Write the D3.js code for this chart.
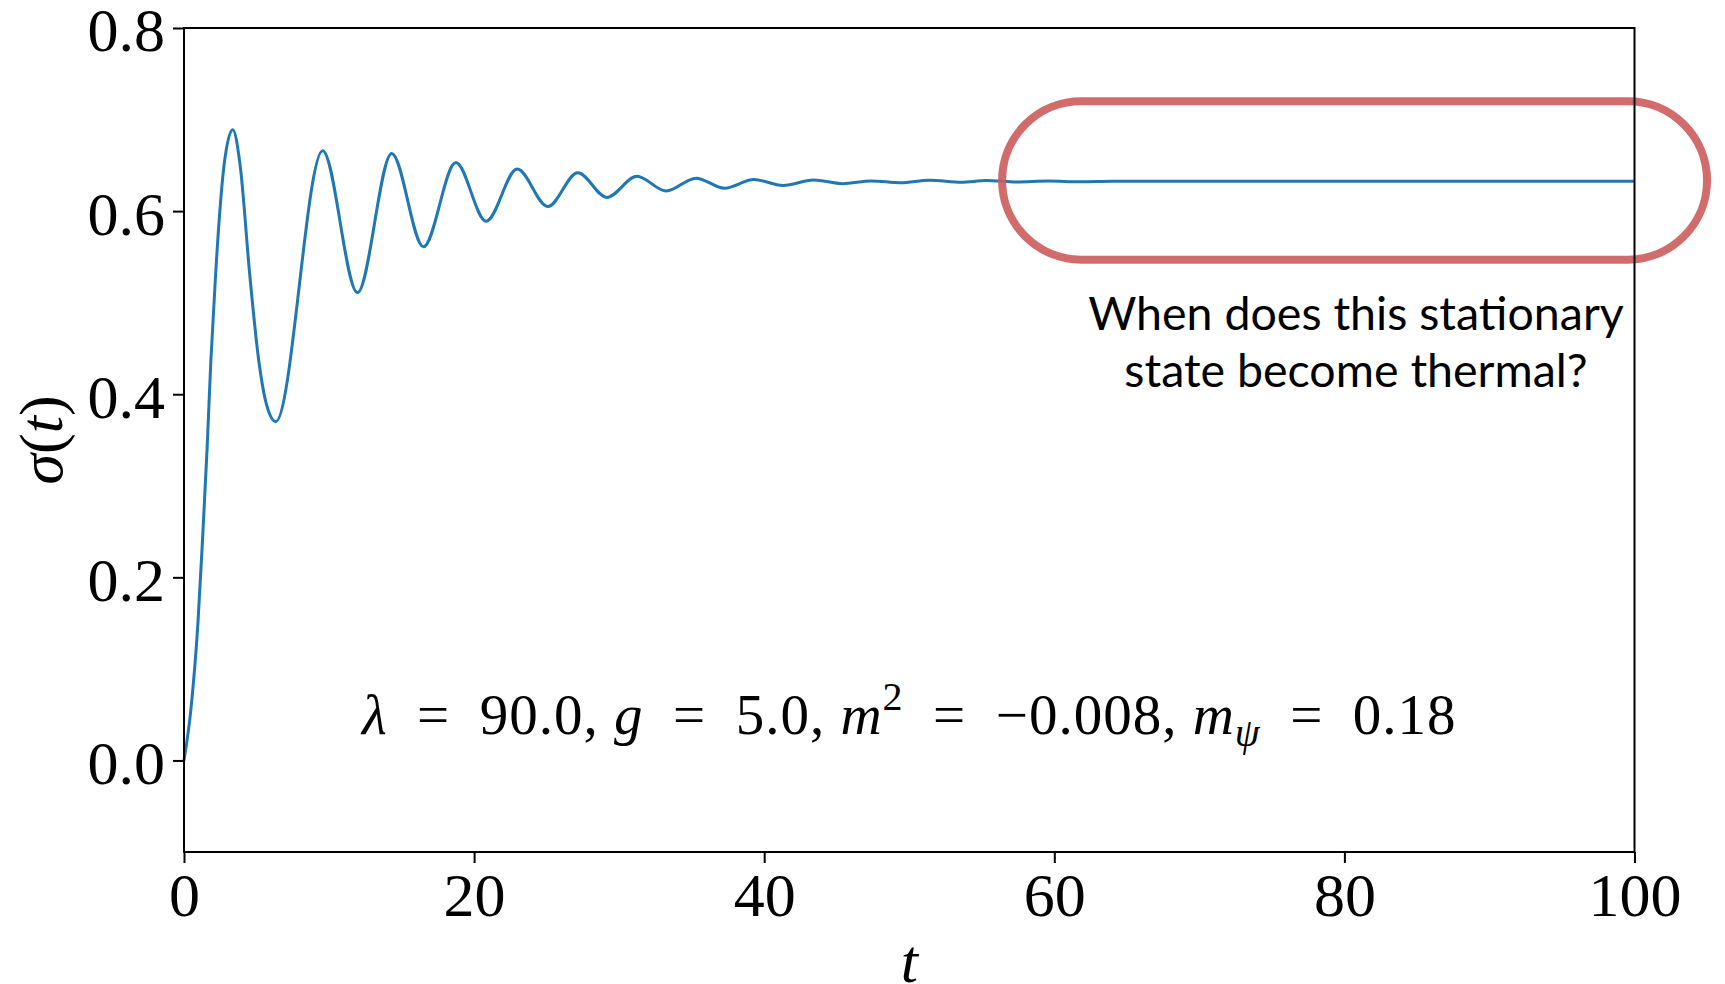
<!DOCTYPE html>
<html>
<head>
<meta charset="utf-8">
<script src="https://cdn.jsdelivr.net/npm/d3@7"></script>
<style>
  html, body { margin: 0; padding: 0; background: #fff; }
  svg { display: block; }
</style>
</head>
<body>
<svg id="chart"></svg>
<script>
// sigma(t): start, points on the first rise/fall, then the turning points
const tValues = [0, 0.47, 0.96, 1.29, 1.59, 1.85, 2.18, 2.48, 2.76, 3.36,
    3.87, 4.53, 5.16, 5.70, 6.33, 9.56, 11.96, 14.32, 16.51, 18.74,
    20.83, 22.97, 25.08, 27.15, 29.15, 31.22, 33.24, 35.3, 37.26, 39.3,
    41.3, 43.4, 45.4, 47.4, 49.4, 51.4, 53.6, 55.3, 57.4, 59.6,
    61.8, 64.0, 100]
const sigmaValues = [0, 0.055, 0.150, 0.245, 0.340, 0.436, 0.531, 0.602, 0.650, 0.689,
    0.650, 0.531, 0.436, 0.388, 0.370, 0.666, 0.511, 0.663, 0.561, 0.653,
    0.589, 0.646, 0.605, 0.642, 0.615, 0.638, 0.622, 0.636, 0.625, 0.6345,
    0.628, 0.634, 0.630, 0.633, 0.631, 0.6338, 0.6315, 0.6333, 0.6318, 0.6328,
    0.6320, 0.6325, 0.6325]

const xTicks = [0, 20, 40, 60, 80, 100]
const yTicks = [0.0, 0.2, 0.4, 0.6, 0.8]
const yTickLabels = ["0.0", "0.2", "0.4", "0.6", "0.8"]

// the highlighted stationary region (data units)
const boxT = [56.4, 105.0]
const boxSigma = [0.547, 0.720]
const noteLines = ["When does this stationary", "state become thermal?"]

// parameter line: [text, style]  (en spaces round "=", like TeX relation spacing)
const paramParts = [
    ["λ", "i"], ["\u2002=\u200290.0, ", ""], ["g", "i"], ["\u2002=\u20025.0, ", ""],
    ["m", "i"], ["2", "sup"], ["\u2002=\u2002−0.008, ", ""],
    ["m", "i"], ["ψ", "sub"], ["\u2002=\u20020.18", ""]
]

let svgWidth = 1725
let svgHeight = 984
let margin = { left: 184, top: 28, right: 90.5, bottom: 132 }
let chartWidth = svgWidth - margin.left - margin.right
let chartHeight = svgHeight - margin.top - margin.bottom

const serif = "'Liberation Serif', 'DejaVu Serif', serif"
const sans = "Lato, 'Open Sans', sans-serif"

const svg = d3.select("#chart")
    .attr("width", svgWidth)
    .attr("height", svgHeight)

const g = svg.append("g")
    .attr("transform", `translate(${margin.left}, ${margin.top})`)

var x = d3.scaleLinear().domain([0, 100]).range([0, chartWidth])
var y = d3.scaleLinear().domain([-0.1, 0.8]).range([chartHeight, 0])

var data = tValues.map((t, i) => ({ t: t, s: sigmaValues[i] }))

// axes
var xAxis = g.append("g")
    .attr("transform", `translate(0, ${chartHeight})`)
    .call(d3.axisBottom(x).tickValues(xTicks).tickFormat(d3.format("d"))
        .tickSizeInner(11).tickSizeOuter(0).tickPadding(9))

var yAxis = g.append("g")
    .call(d3.axisLeft(y).tickValues(yTicks).tickFormat((d, i) => yTickLabels[i])
        .tickSizeInner(11).tickSizeOuter(0).tickPadding(8))

;[xAxis, yAxis].forEach(a => {
    a.attr("font-family", serif).attr("font-size", 62)
    a.select(".domain").remove()
    a.selectAll(".tick line").attr("stroke", "#000").attr("stroke-width", 2)
    a.selectAll(".tick text").attr("fill", "#000")
})
yAxis.selectAll(".tick text").attr("dy", "0.37em")

// the curve
g.append("path")
    .datum(data)
    .attr("fill", "none")
    .attr("stroke", "#1f77b4")
    .attr("stroke-width", 3)
    .attr("stroke-linejoin", "round")
    .attr("d", d3.line()
        .curve(d3.curveMonotoneX)
        .x(d => x(d.t))
        .y(d => y(d.s)))

// rounded box round the flat part
var boxH = y(boxSigma[0]) - y(boxSigma[1])
g.append("rect")
    .attr("x", x(boxT[0]))
    .attr("y", y(boxSigma[1]))
    .attr("width", x(boxT[1]) - x(boxT[0]))
    .attr("height", boxH)
    .attr("rx", boxH / 2)
    .attr("fill", "none")
    .attr("stroke", "#cd5c5c")
    .attr("stroke-opacity", 0.9)
    .attr("stroke-width", 8)

// spines
g.append("rect")
    .attr("width", chartWidth)
    .attr("height", chartHeight)
    .attr("fill", "none")
    .attr("stroke", "#000")
    .attr("stroke-width", 2)

// question text
var note = g.append("text")
    .attr("font-family", sans)
    .attr("font-size", 46.5)
    .attr("text-anchor", "middle")
    .attr("fill", "#000")
note.selectAll("tspan")
    .data(noteLines)
    .enter()
    .append("tspan")
    .attr("x", x(80.8))
    .attr("y", (d, i) => y(0.470) + i * 57)
    .text(d => d)

// parameters
var params = g.append("text")
    .attr("font-family", serif)
    .attr("font-size", 57)
    .attr("x", chartWidth / 2)
    .attr("y", y(0.029))
    .attr("text-anchor", "middle")
    .attr("fill", "#000")
    .style("letter-spacing", "1px")
let shift = 0
paramParts.forEach(p => {
    let ts = params.append("tspan").text(p[0])
    let want = p[1] == "sup" ? -24 : p[1] == "sub" ? 12 : 0
    if (want != shift) { ts.attr("dy", want - shift); shift = want }
    if (p[1] == "i" || p[1] == "sub") ts.attr("font-style", "italic")
    if (p[1] == "sup" || p[1] == "sub") ts.attr("font-size", 40)
})

// axis titles
svg.append("text")
    .attr("font-family", serif)
    .attr("font-size", 62)
    .attr("font-style", "italic")
    .attr("text-anchor", "middle")
    .attr("x", margin.left + chartWidth / 2)
    .attr("y", 982)
    .text("t")

var ylab = svg.append("text")
    .attr("font-family", serif)
    .attr("font-size", 62)
    .attr("text-anchor", "middle")
    .attr("transform", `translate(62, ${margin.top + chartHeight / 2}) rotate(-90)`)
ylab.append("tspan").attr("font-style", "italic").text("σ")
ylab.append("tspan").text("(")
ylab.append("tspan").attr("font-style", "italic").text("t")
ylab.append("tspan").text(")")
</script>
</body>
</html>
